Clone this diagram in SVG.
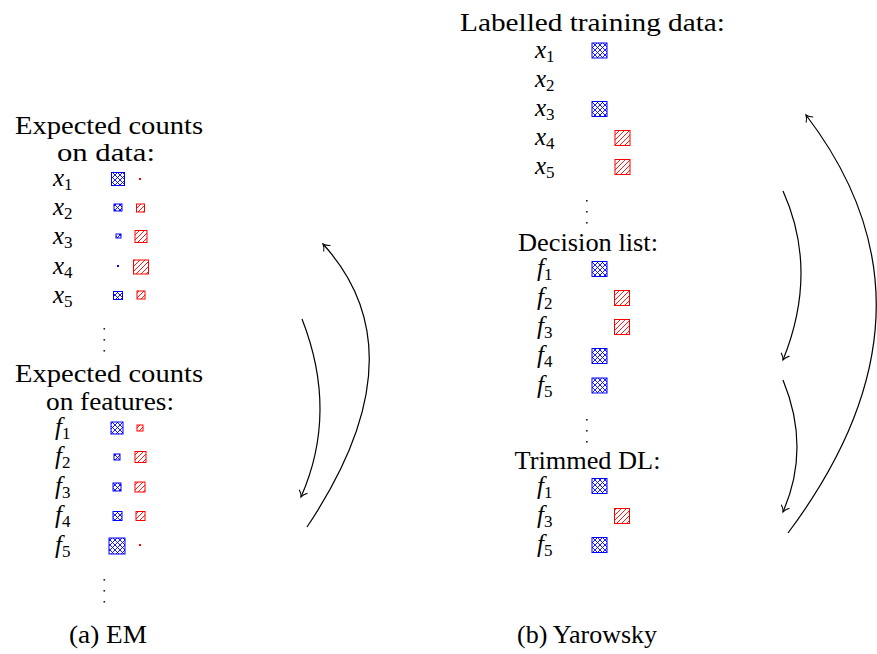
<svg xmlns="http://www.w3.org/2000/svg" width="877" height="654" viewBox="0 0 877 654">
<style>
text{font-family:"Liberation Serif","Times New Roman",serif;font-size:25px;fill:#000}
.t{text-anchor:middle}
.v{font-style:italic}
.s{font-size:17px;font-style:normal}
.b{fill:url(#xh);stroke:#0000ff;stroke-width:1}
.r{fill:url(#ne);stroke:#ff0000;stroke-width:1}
.bd{fill:#0000ff}
.rd{fill:#ff0000}
.dot{fill:#222}
.arr{fill:none;stroke:#000;stroke-width:1.2;marker-end:url(#ah)}
</style>
<defs>
<pattern id="xh" patternUnits="userSpaceOnUse" width="5" height="5">
<rect width="5" height="5" fill="#fff"/>
<path d="M0,0L5,5M5,0L0,5M-1,4L1,6M4,-1L6,1M4,6L6,4M-1,1L1,-1" stroke="#0000ff" stroke-width="0.9"/>
</pattern>
<pattern id="ne" patternUnits="userSpaceOnUse" width="5" height="5">
<rect width="5" height="5" fill="#fff"/>
<path d="M0,5L5,0M-1,1L1,-1M4,6L6,4" stroke="#ff0000" stroke-width="0.9"/>
</pattern>
<marker id="ah" markerUnits="userSpaceOnUse" markerWidth="12" markerHeight="12" orient="auto" overflow="visible">
<path d="M-6,-4.5C-4,-2 -1.5,-0.5 0,0C-1.5,0.5 -4,2 -6,4.5" fill="none" stroke="#000" stroke-width="1.1"/>
</marker>
</defs>

<g id="em-data">
<text class="t" x="109" y="134" textLength="188" lengthAdjust="spacingAndGlyphs">Expected counts</text>
<text class="t" x="106" y="161" textLength="98" lengthAdjust="spacingAndGlyphs">on data:</text>
</g>
<g id="em-x1"><text x="53" y="186"><tspan class="v">x</tspan><tspan class="s" dy="4">1</tspan></text><rect class="b" x="111.5" y="172.5" width="13" height="13"/><rect class="rd" x="139" y="178" width="2" height="2"/></g>
<g id="em-x2"><text x="53" y="215"><tspan class="v">x</tspan><tspan class="s" dy="4">2</tspan></text><rect class="b" x="114" y="204" width="8" height="7"/><rect class="r" x="136.5" y="204" width="8" height="8"/></g>
<g id="em-x3"><text x="53" y="243.5"><tspan class="v">x</tspan><tspan class="s" dy="4">3</tspan></text><rect class="b" x="116" y="234" width="5" height="4"/><rect class="r" x="135" y="230.5" width="12" height="12"/></g>
<g id="em-x4"><text x="53" y="273.5"><tspan class="v">x</tspan><tspan class="s" dy="4">4</tspan></text><rect class="bd" x="117" y="265" width="2" height="2"/><rect class="r" x="133.5" y="260" width="15" height="14"/></g>
<g id="em-x5"><text x="53" y="302.5"><tspan class="v">x</tspan><tspan class="s" dy="4">5</tspan></text><rect class="b" x="113.5" y="291.5" width="9" height="8"/><rect class="r" x="137" y="291" width="8" height="8"/></g>
<g id="em-dots1"><rect class="dot" x="103.5" y="328" width="1.6" height="1.6"/><rect class="dot" x="103.5" y="339" width="1.6" height="1.6"/><rect class="dot" x="103.5" y="350" width="1.6" height="1.6"/></g>

<g id="em-feat">
<text class="t" x="109" y="382" textLength="188" lengthAdjust="spacingAndGlyphs">Expected counts</text>
<text class="t" x="110" y="410" textLength="128" lengthAdjust="spacingAndGlyphs">on features:</text>
</g>
<g id="em-f1"><text x="55" y="435"><tspan class="v">f</tspan><tspan class="s" dy="4">1</tspan></text><rect class="b" x="111" y="422" width="12" height="12"/><rect class="r" x="137" y="425" width="6" height="6"/></g>
<g id="em-f2"><text x="55" y="464"><tspan class="v">f</tspan><tspan class="s" dy="4">2</tspan></text><rect class="b" x="114" y="454" width="6" height="6"/><rect class="r" x="135" y="451.5" width="11" height="11"/></g>
<g id="em-f3"><text x="55" y="494"><tspan class="v">f</tspan><tspan class="s" dy="4">3</tspan></text><rect class="b" x="113" y="483" width="8" height="8"/><rect class="r" x="135" y="482" width="10" height="10"/></g>
<g id="em-f4"><text x="55" y="523"><tspan class="v">f</tspan><tspan class="s" dy="4">4</tspan></text><rect class="b" x="113" y="511.5" width="9" height="9"/><rect class="r" x="136" y="511.5" width="9" height="9"/></g>
<g id="em-f5"><text x="55" y="553"><tspan class="v">f</tspan><tspan class="s" dy="4">5</tspan></text><rect class="b" x="109" y="538" width="16" height="16"/><rect class="rd" x="139" y="544" width="2" height="2"/></g>
<g id="em-dots2"><rect class="dot" x="103.5" y="579" width="1.6" height="1.6"/><rect class="dot" x="103.5" y="590" width="1.6" height="1.6"/><rect class="dot" x="103.5" y="601" width="1.6" height="1.6"/></g>
<g id="cap-a"><text class="t" x="108" y="643" textLength="78" lengthAdjust="spacingAndGlyphs">(a) EM</text></g>

<g id="ya-train"><text class="t" x="592.5" y="31" textLength="265" lengthAdjust="spacingAndGlyphs">Labelled training data:</text></g>
<g id="ya-x1"><text x="535" y="57.5"><tspan class="v">x</tspan><tspan class="s" dy="4">1</tspan></text><rect class="b" x="592" y="43" width="15" height="15"/></g>
<g id="ya-x2"><text x="535" y="87"><tspan class="v">x</tspan><tspan class="s" dy="4">2</tspan></text></g>
<g id="ya-x3"><text x="535" y="116"><tspan class="v">x</tspan><tspan class="s" dy="4">3</tspan></text><rect class="b" x="592" y="101.5" width="15" height="15"/></g>
<g id="ya-x4"><text x="535" y="145"><tspan class="v">x</tspan><tspan class="s" dy="4">4</tspan></text><rect class="r" x="615" y="130.5" width="15" height="15"/></g>
<g id="ya-x5"><text x="535" y="174"><tspan class="v">x</tspan><tspan class="s" dy="4">5</tspan></text><rect class="r" x="615" y="159.5" width="15" height="15"/></g>
<g id="ya-dots1"><rect class="dot" x="586" y="200" width="1.6" height="1.6"/><rect class="dot" x="586" y="211" width="1.6" height="1.6"/><rect class="dot" x="586" y="222" width="1.6" height="1.6"/></g>

<g id="ya-dl"><text class="t" x="588" y="251" textLength="140" lengthAdjust="spacingAndGlyphs">Decision list:</text></g>
<g id="ya-f1"><text x="537" y="276"><tspan class="v">f</tspan><tspan class="s" dy="4">1</tspan></text><rect class="b" x="592" y="261.5" width="15" height="15"/></g>
<g id="ya-f2"><text x="537" y="305"><tspan class="v">f</tspan><tspan class="s" dy="4">2</tspan></text><rect class="r" x="614.5" y="290.5" width="15" height="15"/></g>
<g id="ya-f3"><text x="537" y="334"><tspan class="v">f</tspan><tspan class="s" dy="4">3</tspan></text><rect class="r" x="614.5" y="319.5" width="15" height="15"/></g>
<g id="ya-f4"><text x="537" y="363"><tspan class="v">f</tspan><tspan class="s" dy="4">4</tspan></text><rect class="b" x="592" y="348.5" width="15" height="15"/></g>
<g id="ya-f5"><text x="537" y="392.5"><tspan class="v">f</tspan><tspan class="s" dy="4">5</tspan></text><rect class="b" x="592" y="378" width="15" height="15"/></g>
<g id="ya-dots2"><rect class="dot" x="586" y="419" width="1.6" height="1.6"/><rect class="dot" x="586" y="430" width="1.6" height="1.6"/><rect class="dot" x="586" y="441" width="1.6" height="1.6"/></g>

<g id="ya-tdl"><text class="t" x="587.5" y="469" textLength="146" lengthAdjust="spacingAndGlyphs">Trimmed DL:</text></g>
<g id="ya-t1"><text x="537" y="494"><tspan class="v">f</tspan><tspan class="s" dy="4">1</tspan></text><rect class="b" x="592" y="478.5" width="15" height="15"/></g>
<g id="ya-t3"><text x="537" y="523"><tspan class="v">f</tspan><tspan class="s" dy="4">3</tspan></text><rect class="r" x="614.5" y="508.5" width="15" height="15"/></g>
<g id="ya-t5"><text x="537" y="552"><tspan class="v">f</tspan><tspan class="s" dy="4">5</tspan></text><rect class="b" x="592" y="537.5" width="15" height="15"/></g>
<g id="cap-b"><text class="t" x="587" y="643" textLength="140" lengthAdjust="spacingAndGlyphs">(b) Yarowsky</text></g>

<g id="connectors">
<path class="arr" d="M302,319Q338.5,412 301,497"/>
<path class="arr" d="M307,527Q423,354 323,244"/>
<path class="arr" d="M783,191Q819,271 783,360"/>
<path class="arr" d="M783,380Q811,448 783,512"/>
<path class="arr" d="M788,533Q955,310 806,115"/>
</g>
</svg>
